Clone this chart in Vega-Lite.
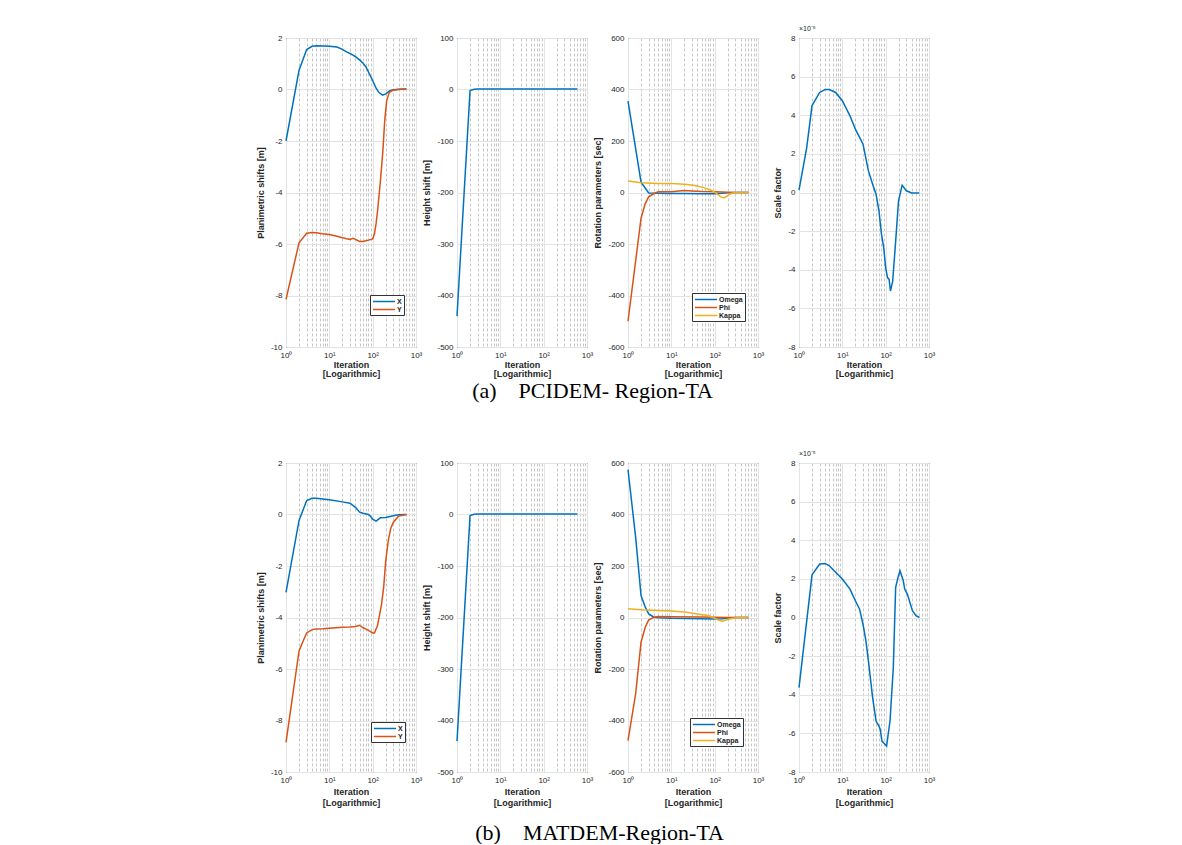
{
  "$schema": "https://vega.github.io/schema/vega-lite/v6.json",
  "background": "white",
  "padding": {"left": 255, "top": 24, "right": 5, "bottom": 0},
  "resolve": {"scale": {"color": "independent"}, "legend": {"color": "independent"}},
  "config": {
    "font": "Liberation Sans",
    "view": {"stroke": "#262626", "strokeWidth": 1},
    "axis": {"labelFont": "Liberation Sans", "labelFontSize": 8, "labelColor": "#262626", "titleFont": "Liberation Sans", "titleFontSize": 9, "titleFontWeight": "bold", "titleColor": "#262626", "domain": false, "ticks": false, "gridColor": "#e3e3e3", "gridWidth": 1, "labelPadding": 4},
    "axisY": {"titlePadding": 5},
    "legend": {"title": null, "fillColor": "white", "strokeColor": "#333333", "padding": 2, "labelFont": "Liberation Sans", "labelFontSize": 7, "labelFontWeight": "bold", "labelColor": "#222222", "symbolType": "M-1,0H5.3", "symbolSize": 49, "symbolStrokeWidth": 1.5, "rowPadding": 0, "labelOffset": 16}
  },
  "datasets": {
    "a_plan": [
      {"iter":1,"value":-2.0,"series":"X"},{"iter":2,"value":0.75,"series":"X"},{"iter":3,"value":1.55,"series":"X"},{"iter":4,"value":1.68,"series":"X"},{"iter":5,"value":1.7,"series":"X"},{"iter":7,"value":1.69,"series":"X"},{"iter":10,"value":1.68,"series":"X"},{"iter":15,"value":1.65,"series":"X"},{"iter":20,"value":1.56,"series":"X"},{"iter":25,"value":1.46,"series":"X"},{"iter":30,"value":1.4,"series":"X"},{"iter":40,"value":1.28,"series":"X"},{"iter":50,"value":1.15,"series":"X"},{"iter":60,"value":1.02,"series":"X"},{"iter":70,"value":0.88,"series":"X"},{"iter":80,"value":0.68,"series":"X"},{"iter":100,"value":0.35,"series":"X"},{"iter":120,"value":0.05,"series":"X"},{"iter":140,"value":-0.12,"series":"X"},{"iter":170,"value":-0.22,"series":"X"},{"iter":200,"value":-0.17,"series":"X"},{"iter":250,"value":-0.05,"series":"X"},{"iter":300,"value":-0.01,"series":"X"},{"iter":400,"value":0.01,"series":"X"},{"iter":600,"value":0.02,"series":"X"},
      {"iter":1,"value":-8.15,"series":"Y"},{"iter":2,"value":-5.95,"series":"Y"},{"iter":3,"value":-5.58,"series":"Y"},{"iter":4,"value":-5.55,"series":"Y"},{"iter":5,"value":-5.56,"series":"Y"},{"iter":7,"value":-5.6,"series":"Y"},{"iter":10,"value":-5.63,"series":"Y"},{"iter":15,"value":-5.7,"series":"Y"},{"iter":20,"value":-5.76,"series":"Y"},{"iter":25,"value":-5.8,"series":"Y"},{"iter":30,"value":-5.82,"series":"Y"},{"iter":35,"value":-5.78,"series":"Y"},{"iter":40,"value":-5.82,"series":"Y"},{"iter":50,"value":-5.9,"series":"Y"},{"iter":60,"value":-5.9,"series":"Y"},{"iter":70,"value":-5.87,"series":"Y"},{"iter":80,"value":-5.85,"series":"Y"},{"iter":100,"value":-5.8,"series":"Y"},{"iter":110,"value":-5.6,"series":"Y"},{"iter":120,"value":-5.2,"series":"Y"},{"iter":130,"value":-4.7,"series":"Y"},{"iter":150,"value":-3.6,"series":"Y"},{"iter":170,"value":-2.5,"series":"Y"},{"iter":190,"value":-1.2,"series":"Y"},{"iter":210,"value":-0.45,"series":"Y"},{"iter":240,"value":-0.12,"series":"Y"},{"iter":280,"value":-0.04,"series":"Y"},{"iter":400,"value":0,"series":"Y"},{"iter":600,"value":0.02,"series":"Y"}
    ],
    "height": [
      {"iter":1,"value":-440},{"iter":2,"value":-2},{"iter":2.5,"value":0.5},{"iter":3,"value":0.8},{"iter":5,"value":1},{"iter":10,"value":1},{"iter":50,"value":1},{"iter":100,"value":1},{"iter":300,"value":1},{"iter":600,"value":1}
    ],
    "a_rot": [
      {"iter":1,"value":355,"series":"Omega"},{"iter":2,"value":40,"series":"Omega"},{"iter":3,"value":-2,"series":"Omega"},{"iter":5,"value":-3,"series":"Omega"},{"iter":10,"value":-4,"series":"Omega"},{"iter":20,"value":-4,"series":"Omega"},{"iter":50,"value":-5,"series":"Omega"},{"iter":100,"value":-5,"series":"Omega"},{"iter":150,"value":-3,"series":"Omega"},{"iter":200,"value":-1,"series":"Omega"},{"iter":300,"value":0,"series":"Omega"},{"iter":600,"value":0,"series":"Omega"},
      {"iter":1,"value":-500,"series":"Phi"},{"iter":2,"value":-100,"series":"Phi"},{"iter":2.5,"value":-43,"series":"Phi"},{"iter":3,"value":-17,"series":"Phi"},{"iter":4,"value":-4,"series":"Phi"},{"iter":5,"value":3,"series":"Phi"},{"iter":10,"value":3,"series":"Phi"},{"iter":20,"value":8,"series":"Phi"},{"iter":30,"value":6,"series":"Phi"},{"iter":50,"value":4,"series":"Phi"},{"iter":100,"value":3,"series":"Phi"},{"iter":200,"value":1,"series":"Phi"},{"iter":300,"value":0,"series":"Phi"},{"iter":600,"value":0,"series":"Phi"},
      {"iter":1,"value":45,"series":"Kappa"},{"iter":2,"value":38,"series":"Kappa"},{"iter":5,"value":35,"series":"Kappa"},{"iter":10,"value":35,"series":"Kappa"},{"iter":20,"value":32,"series":"Kappa"},{"iter":35,"value":27,"series":"Kappa"},{"iter":56,"value":19,"series":"Kappa"},{"iter":80,"value":10,"series":"Kappa"},{"iter":96,"value":3,"series":"Kappa"},{"iter":120,"value":-8,"series":"Kappa"},{"iter":138,"value":-17,"series":"Kappa"},{"iter":166,"value":-21,"series":"Kappa"},{"iter":198,"value":-12,"series":"Kappa"},{"iter":240,"value":-4,"series":"Kappa"},{"iter":282,"value":-1,"series":"Kappa"},{"iter":600,"value":0,"series":"Kappa"}
    ],
    "a_scale": [
      {"iter":1,"value":0.12e-5},{"iter":1.5,"value":2.3e-5},{"iter":2,"value":4.5e-5},{"iter":3,"value":5.18e-5},{"iter":4,"value":5.33e-5},{"iter":5,"value":5.33e-5},{"iter":7,"value":5.18e-5},{"iter":10,"value":4.75e-5},{"iter":15,"value":3.97e-5},{"iter":20,"value":3.28e-5},{"iter":25,"value":2.85e-5},{"iter":30,"value":2.5e-5},{"iter":40,"value":1.12e-5},{"iter":50,"value":0.43e-5},{"iter":60,"value":-0.09e-5},{"iter":70,"value":-0.95e-5},{"iter":80,"value":-2.16e-5},{"iter":90,"value":-2.85e-5},{"iter":100,"value":-3.89e-5},{"iter":110,"value":-4.4e-5},{"iter":120,"value":-4.5e-5},{"iter":129,"value":-5.1e-5},{"iter":145,"value":-4.6e-5},{"iter":168,"value":-2.7e-5},{"iter":198,"value":-0.43e-5},{"iter":240,"value":0.38e-5},{"iter":300,"value":0.09e-5},{"iter":400,"value":-0.02e-5},{"iter":600,"value":-0.03e-5}
    ],
    "b_plan": [
      {"iter":1,"value":-3.02,"series":"X"},{"iter":2,"value":-0.23,"series":"X"},{"iter":3,"value":0.54,"series":"X"},{"iter":4,"value":0.63,"series":"X"},{"iter":5,"value":0.63,"series":"X"},{"iter":7,"value":0.6,"series":"X"},{"iter":10,"value":0.57,"series":"X"},{"iter":20,"value":0.49,"series":"X"},{"iter":30,"value":0.44,"series":"X"},{"iter":40,"value":0.28,"series":"X"},{"iter":50,"value":0.09,"series":"X"},{"iter":60,"value":0.05,"series":"X"},{"iter":80,"value":0.0,"series":"X"},{"iter":90,"value":-0.08,"series":"X"},{"iter":100,"value":-0.18,"series":"X"},{"iter":120,"value":-0.26,"series":"X"},{"iter":150,"value":-0.13,"series":"X"},{"iter":200,"value":-0.12,"series":"X"},{"iter":300,"value":-0.05,"series":"X"},{"iter":400,"value":-0.01,"series":"X"},{"iter":600,"value":0,"series":"X"},
      {"iter":1,"value":-8.85,"series":"Y"},{"iter":2,"value":-5.3,"series":"Y"},{"iter":2.5,"value":-4.9,"series":"Y"},{"iter":3,"value":-4.6,"series":"Y"},{"iter":4,"value":-4.47,"series":"Y"},{"iter":5,"value":-4.45,"series":"Y"},{"iter":7,"value":-4.44,"series":"Y"},{"iter":10,"value":-4.42,"series":"Y"},{"iter":20,"value":-4.38,"series":"Y"},{"iter":30,"value":-4.37,"series":"Y"},{"iter":40,"value":-4.35,"series":"Y"},{"iter":50,"value":-4.3,"series":"Y"},{"iter":60,"value":-4.4,"series":"Y"},{"iter":70,"value":-4.45,"series":"Y"},{"iter":80,"value":-4.5,"series":"Y"},{"iter":100,"value":-4.6,"series":"Y"},{"iter":110,"value":-4.6,"series":"Y"},{"iter":130,"value":-4.3,"series":"Y"},{"iter":160,"value":-3.5,"series":"Y"},{"iter":180,"value":-2.8,"series":"Y"},{"iter":200,"value":-1.8,"series":"Y"},{"iter":230,"value":-1.0,"series":"Y"},{"iter":260,"value":-0.55,"series":"Y"},{"iter":300,"value":-0.3,"series":"Y"},{"iter":400,"value":-0.06,"series":"Y"},{"iter":600,"value":0,"series":"Y"}
    ],
    "b_rot": [
      {"iter":1,"value":574,"series":"Omega"},{"iter":1.5,"value":312,"series":"Omega"},{"iter":2,"value":85,"series":"Omega"},{"iter":2.5,"value":40,"series":"Omega"},{"iter":3,"value":14,"series":"Omega"},{"iter":4,"value":1,"series":"Omega"},{"iter":5,"value":-1,"series":"Omega"},{"iter":10,"value":-3,"series":"Omega"},{"iter":50,"value":-5,"series":"Omega"},{"iter":100,"value":-6,"series":"Omega"},{"iter":150,"value":-5,"series":"Omega"},{"iter":200,"value":-2,"series":"Omega"},{"iter":300,"value":0,"series":"Omega"},{"iter":600,"value":0,"series":"Omega"},
      {"iter":1,"value":-478,"series":"Phi"},{"iter":1.5,"value":-297,"series":"Phi"},{"iter":2,"value":-96,"series":"Phi"},{"iter":2.5,"value":-38,"series":"Phi"},{"iter":3,"value":-9,"series":"Phi"},{"iter":4,"value":1,"series":"Phi"},{"iter":5,"value":4,"series":"Phi"},{"iter":10,"value":3,"series":"Phi"},{"iter":50,"value":2,"series":"Phi"},{"iter":100,"value":1,"series":"Phi"},{"iter":200,"value":0,"series":"Phi"},{"iter":600,"value":0,"series":"Phi"},
      {"iter":1,"value":34,"series":"Kappa"},{"iter":2,"value":30,"series":"Kappa"},{"iter":5,"value":27,"series":"Kappa"},{"iter":10,"value":25,"series":"Kappa"},{"iter":20,"value":21,"series":"Kappa"},{"iter":40,"value":14,"series":"Kappa"},{"iter":70,"value":8,"series":"Kappa"},{"iter":100,"value":-3,"series":"Kappa"},{"iter":130,"value":-12,"series":"Kappa"},{"iter":150,"value":-14,"series":"Kappa"},{"iter":200,"value":-8,"series":"Kappa"},{"iter":300,"value":-1,"series":"Kappa"},{"iter":600,"value":0,"series":"Kappa"}
    ],
    "b_scale": [
      {"iter":1,"value":-3.63e-5},{"iter":2,"value":2.21e-5},{"iter":3,"value":2.77e-5},{"iter":4,"value":2.8e-5},{"iter":5,"value":2.68e-5},{"iter":7,"value":2.34e-5},{"iter":10,"value":1.99e-5},{"iter":15,"value":1.47e-5},{"iter":20,"value":0.87e-5},{"iter":25,"value":0.43e-5},{"iter":30,"value":-0.35e-5},{"iter":35,"value":-1.21e-5},{"iter":40,"value":-2.25e-5},{"iter":50,"value":-4.15e-5},{"iter":60,"value":-5.36e-5},{"iter":70,"value":-5.62e-5},{"iter":75,"value":-5.8e-5},{"iter":82,"value":-6.4e-5},{"iter":95,"value":-6.55e-5},{"iter":105,"value":-6.66e-5},{"iter":126,"value":-5.36e-5},{"iter":150,"value":-2.6e-5},{"iter":170,"value":1.56e-5},{"iter":193,"value":2.08e-5},{"iter":214,"value":2.42e-5},{"iter":255,"value":1.9e-5},{"iter":275,"value":1.47e-5},{"iter":316,"value":1.21e-5},{"iter":415,"value":0.35e-5},{"iter":500,"value":0.1e-5},{"iter":600,"value":0.0}
    ]
  },
  "vconcat": [
    {
      "title": {"text": "(a)\u00a0\u00a0\u00a0\u00a0PCIDEM- Region-TA", "orient": "bottom", "anchor": "middle", "font": "Liberation Serif", "fontSize": 22, "fontWeight": "normal", "color": "black", "offset": 2, "dx": -3},
      "spacing": 41,
      "bounds": "flush",
      "resolve": {"scale": {"color": "independent"}, "legend": {"color": "independent"}},
      "hconcat": [
        {
          "width": 130, "height": 309,
          "data": {"name": "a_plan"},
          "mark": {"type": "line", "strokeWidth": 1.5},
          "encoding": {
            "x": {"field": "iter", "type": "quantitative", "scale": {"type": "log", "domain": [1, 1000], "nice": false},
              "axis": {"values": [1,2,3,4,5,6,7,8,9,10,20,30,40,50,60,70,80,90,100,200,300,400,500,600,700,800,900,1000], "labelExpr": "datum.value==1?'10⁰':datum.value==10?'10¹':datum.value==100?'10²':datum.value==1000?'10³':''", "labelFlush": false, "labelOverlap": false, "gridDash": {"condition": {"test": "indexof([1,10,100,1000],datum.value)<0", "value": [3,2]}, "value": []}, "gridColor": {"condition": {"test": "indexof([1,10,100,1000],datum.value)<0", "value": "#c6c6c6"}, "value": "#e3e3e3"}, "title": ["Iteration", "[Logarithmic]"], "titlePadding": 1, "titleLineHeight": 9.5}},
            "y": {"field": "value", "type": "quantitative", "scale": {"domain": [-10, 2], "nice": false, "zero": false}, "axis": {"values": [-10,-8,-6,-4,-2,0,2], "labelExpr": "''+datum.value", "title": "Planimetric shifts [m]"}},
            "color": {"field": "series", "type": "nominal", "scale": {"domain": ["X", "Y"], "range": ["#0072BD", "#D95319"]}, "legend": {"orient": "none", "legendX": 84, "legendY": 257}}
          }
        },
        {
          "width": 130, "height": 309,
          "data": {"name": "height"},
          "mark": {"type": "line", "strokeWidth": 1.5, "color": "#0072BD"},
          "encoding": {
            "x": {"field": "iter", "type": "quantitative", "scale": {"type": "log", "domain": [1, 1000], "nice": false},
              "axis": {"values": [1,2,3,4,5,6,7,8,9,10,20,30,40,50,60,70,80,90,100,200,300,400,500,600,700,800,900,1000], "labelExpr": "datum.value==1?'10⁰':datum.value==10?'10¹':datum.value==100?'10²':datum.value==1000?'10³':''", "labelFlush": false, "labelOverlap": false, "gridDash": {"condition": {"test": "indexof([1,10,100,1000],datum.value)<0", "value": [3,2]}, "value": []}, "gridColor": {"condition": {"test": "indexof([1,10,100,1000],datum.value)<0", "value": "#c6c6c6"}, "value": "#e3e3e3"}, "title": ["Iteration", "[Logarithmic]"], "titlePadding": 1, "titleLineHeight": 9.5}},
            "y": {"field": "value", "type": "quantitative", "scale": {"domain": [-500, 100], "nice": false, "zero": false}, "axis": {"values": [-500,-400,-300,-200,-100,0,100], "labelExpr": "''+datum.value", "title": "Height shift [m]"}}
          }
        },
        {
          "width": 130, "height": 309,
          "data": {"name": "a_rot"},
          "mark": {"type": "line", "strokeWidth": 1.5},
          "encoding": {
            "x": {"field": "iter", "type": "quantitative", "scale": {"type": "log", "domain": [1, 1000], "nice": false},
              "axis": {"values": [1,2,3,4,5,6,7,8,9,10,20,30,40,50,60,70,80,90,100,200,300,400,500,600,700,800,900,1000], "labelExpr": "datum.value==1?'10⁰':datum.value==10?'10¹':datum.value==100?'10²':datum.value==1000?'10³':''", "labelFlush": false, "labelOverlap": false, "gridDash": {"condition": {"test": "indexof([1,10,100,1000],datum.value)<0", "value": [3,2]}, "value": []}, "gridColor": {"condition": {"test": "indexof([1,10,100,1000],datum.value)<0", "value": "#c6c6c6"}, "value": "#e3e3e3"}, "title": ["Iteration", "[Logarithmic]"], "titlePadding": 1, "titleLineHeight": 9.5}},
            "y": {"field": "value", "type": "quantitative", "scale": {"domain": [-600, 600], "nice": false, "zero": false}, "axis": {"values": [-600,-400,-200,0,200,400,600], "labelExpr": "''+datum.value", "title": "Rotation parameters [sec]"}},
            "color": {"field": "series", "type": "nominal", "scale": {"domain": ["Omega", "Phi", "Kappa"], "range": ["#0072BD", "#D95319", "#EDB120"]}, "legend": {"orient": "none", "legendX": 64, "legendY": 255}}
          }
        },
        {
          "width": 130, "height": 309,
          "title": {"text": "×10⁻⁵", "anchor": "start", "frame": "group", "fontSize": 7, "fontWeight": "normal", "font": "Liberation Sans", "color": "#262626", "offset": 2},
          "data": {"name": "a_scale"},
          "mark": {"type": "line", "strokeWidth": 1.5, "color": "#0072BD"},
          "encoding": {
            "x": {"field": "iter", "type": "quantitative", "scale": {"type": "log", "domain": [1, 1000], "nice": false},
              "axis": {"values": [1,2,3,4,5,6,7,8,9,10,20,30,40,50,60,70,80,90,100,200,300,400,500,600,700,800,900,1000], "labelExpr": "datum.value==1?'10⁰':datum.value==10?'10¹':datum.value==100?'10²':datum.value==1000?'10³':''", "labelFlush": false, "labelOverlap": false, "gridDash": {"condition": {"test": "indexof([1,10,100,1000],datum.value)<0", "value": [3,2]}, "value": []}, "gridColor": {"condition": {"test": "indexof([1,10,100,1000],datum.value)<0", "value": "#c6c6c6"}, "value": "#e3e3e3"}, "title": ["Iteration", "[Logarithmic]"], "titlePadding": 1, "titleLineHeight": 9.5}},
            "y": {"field": "value", "type": "quantitative", "scale": {"domain": [-8e-5, 8e-5], "nice": false, "zero": false}, "axis": {"values": [-8e-5,-6e-5,-4e-5,-2e-5,0,2e-5,4e-5,6e-5,8e-5], "labelExpr": "''+round(datum.value*1e5)", "title": "Scale factor"}}
          }
        }
      ]
    },
    {
      "title": {"text": "(b)\u00a0\u00a0\u00a0\u00a0MATDEM-Region-TA", "orient": "bottom", "anchor": "middle", "font": "Liberation Serif", "fontSize": 22, "fontWeight": "normal", "color": "black", "offset": 15, "dx": 4},
      "spacing": 41,
      "bounds": "flush",
      "resolve": {"scale": {"color": "independent"}, "legend": {"color": "independent"}},
      "hconcat": [
        {
          "width": 130, "height": 309,
          "data": {"name": "b_plan"},
          "mark": {"type": "line", "strokeWidth": 1.5},
          "encoding": {
            "x": {"field": "iter", "type": "quantitative", "scale": {"type": "log", "domain": [1, 1000], "nice": false},
              "axis": {"values": [1,2,3,4,5,6,7,8,9,10,20,30,40,50,60,70,80,90,100,200,300,400,500,600,700,800,900,1000], "labelExpr": "datum.value==1?'10⁰':datum.value==10?'10¹':datum.value==100?'10²':datum.value==1000?'10³':''", "labelFlush": false, "labelOverlap": false, "gridDash": {"condition": {"test": "indexof([1,10,100,1000],datum.value)<0", "value": [3,2]}, "value": []}, "gridColor": {"condition": {"test": "indexof([1,10,100,1000],datum.value)<0", "value": "#c6c6c6"}, "value": "#e3e3e3"}, "title": ["Iteration", "[Logarithmic]"], "titlePadding": 3, "titleLineHeight": 11}},
            "y": {"field": "value", "type": "quantitative", "scale": {"domain": [-10, 2], "nice": false, "zero": false}, "axis": {"values": [-10,-8,-6,-4,-2,0,2], "labelExpr": "''+datum.value", "title": "Planimetric shifts [m]"}},
            "color": {"field": "series", "type": "nominal", "scale": {"domain": ["X", "Y"], "range": ["#0072BD", "#D95319"]}, "legend": {"orient": "none", "legendX": 85, "legendY": 259}}
          }
        },
        {
          "width": 130, "height": 309,
          "data": {"name": "height"},
          "mark": {"type": "line", "strokeWidth": 1.5, "color": "#0072BD"},
          "encoding": {
            "x": {"field": "iter", "type": "quantitative", "scale": {"type": "log", "domain": [1, 1000], "nice": false},
              "axis": {"values": [1,2,3,4,5,6,7,8,9,10,20,30,40,50,60,70,80,90,100,200,300,400,500,600,700,800,900,1000], "labelExpr": "datum.value==1?'10⁰':datum.value==10?'10¹':datum.value==100?'10²':datum.value==1000?'10³':''", "labelFlush": false, "labelOverlap": false, "gridDash": {"condition": {"test": "indexof([1,10,100,1000],datum.value)<0", "value": [3,2]}, "value": []}, "gridColor": {"condition": {"test": "indexof([1,10,100,1000],datum.value)<0", "value": "#c6c6c6"}, "value": "#e3e3e3"}, "title": ["Iteration", "[Logarithmic]"], "titlePadding": 3, "titleLineHeight": 11}},
            "y": {"field": "value", "type": "quantitative", "scale": {"domain": [-500, 100], "nice": false, "zero": false}, "axis": {"values": [-500,-400,-300,-200,-100,0,100], "labelExpr": "''+datum.value", "title": "Height shift [m]"}}
          }
        },
        {
          "width": 130, "height": 309,
          "data": {"name": "b_rot"},
          "mark": {"type": "line", "strokeWidth": 1.5},
          "encoding": {
            "x": {"field": "iter", "type": "quantitative", "scale": {"type": "log", "domain": [1, 1000], "nice": false},
              "axis": {"values": [1,2,3,4,5,6,7,8,9,10,20,30,40,50,60,70,80,90,100,200,300,400,500,600,700,800,900,1000], "labelExpr": "datum.value==1?'10⁰':datum.value==10?'10¹':datum.value==100?'10²':datum.value==1000?'10³':''", "labelFlush": false, "labelOverlap": false, "gridDash": {"condition": {"test": "indexof([1,10,100,1000],datum.value)<0", "value": [3,2]}, "value": []}, "gridColor": {"condition": {"test": "indexof([1,10,100,1000],datum.value)<0", "value": "#c6c6c6"}, "value": "#e3e3e3"}, "title": ["Iteration", "[Logarithmic]"], "titlePadding": 3, "titleLineHeight": 11}},
            "y": {"field": "value", "type": "quantitative", "scale": {"domain": [-600, 600], "nice": false, "zero": false}, "axis": {"values": [-600,-400,-200,0,200,400,600], "labelExpr": "''+datum.value", "title": "Rotation parameters [sec]"}},
            "color": {"field": "series", "type": "nominal", "scale": {"domain": ["Omega", "Phi", "Kappa"], "range": ["#0072BD", "#D95319", "#EDB120"]}, "legend": {"orient": "none", "legendX": 62, "legendY": 255}}
          }
        },
        {
          "width": 130, "height": 309,
          "title": {"text": "×10⁻⁵", "anchor": "start", "frame": "group", "fontSize": 7, "fontWeight": "normal", "font": "Liberation Sans", "color": "#262626", "offset": 2},
          "data": {"name": "b_scale"},
          "mark": {"type": "line", "strokeWidth": 1.5, "color": "#0072BD"},
          "encoding": {
            "x": {"field": "iter", "type": "quantitative", "scale": {"type": "log", "domain": [1, 1000], "nice": false},
              "axis": {"values": [1,2,3,4,5,6,7,8,9,10,20,30,40,50,60,70,80,90,100,200,300,400,500,600,700,800,900,1000], "labelExpr": "datum.value==1?'10⁰':datum.value==10?'10¹':datum.value==100?'10²':datum.value==1000?'10³':''", "labelFlush": false, "labelOverlap": false, "gridDash": {"condition": {"test": "indexof([1,10,100,1000],datum.value)<0", "value": [3,2]}, "value": []}, "gridColor": {"condition": {"test": "indexof([1,10,100,1000],datum.value)<0", "value": "#c6c6c6"}, "value": "#e3e3e3"}, "title": ["Iteration", "[Logarithmic]"], "titlePadding": 3, "titleLineHeight": 11}},
            "y": {"field": "value", "type": "quantitative", "scale": {"domain": [-8e-5, 8e-5], "nice": false, "zero": false}, "axis": {"values": [-8e-5,-6e-5,-4e-5,-2e-5,0,2e-5,4e-5,6e-5,8e-5], "labelExpr": "''+round(datum.value*1e5)", "title": "Scale factor"}}
          }
        }
      ]
    }
  ],
  "spacing": 47
}
